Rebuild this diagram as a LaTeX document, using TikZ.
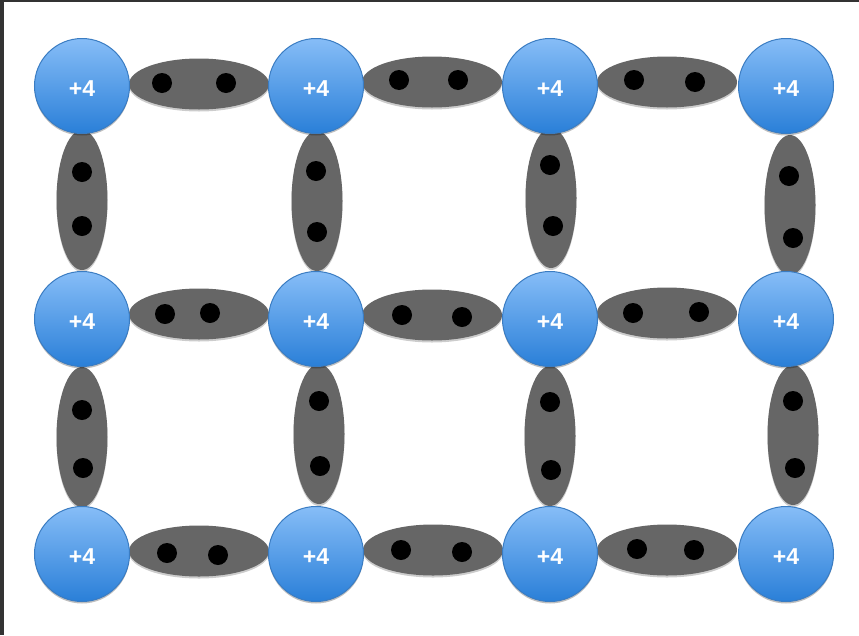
\documentclass[tikz,border=0pt]{standalone}
\usepackage{fontspec}
\setmainfont{Liberation Sans}
\usetikzlibrary{shapes.geometric,shadows}
\definecolor{atomtop}{HTML}{86BDF7}
\definecolor{atombot}{HTML}{2A7FD8}
\definecolor{atomedge}{HTML}{3A7CC2}
\definecolor{bondgray}{HTML}{666666}
\definecolor{frame}{HTML}{333333}
\tikzset{
  atom/.style={circle, minimum size=95pt, inner sep=0pt, draw=atomedge, line width=1pt,
    top color=atomtop, bottom color=atombot,
    drop shadow={shadow xshift=0pt, shadow yshift=-2pt, opacity=0.25, fill=black}},
  charge/.style={inner sep=0pt, text=white, font=\fontsize{23}{23}\selectfont\bfseries},
  hbond/.style={ellipse, minimum width=140pt, minimum height=51pt, inner sep=0pt, fill=bondgray,
    drop shadow={shadow xshift=0pt, shadow yshift=-2pt, opacity=0.2, fill=black}},
  vbond/.style={ellipse, minimum width=51pt, minimum height=140pt, inner sep=0pt, fill=bondgray,
    drop shadow={shadow xshift=0pt, shadow yshift=-2pt, opacity=0.2, fill=black}},
  electron/.style={circle, minimum size=20pt, inner sep=0pt, fill=black}
}
\begin{document}
\begin{tikzpicture}[x=1pt, y=-1pt]
\useasboundingbox (0,0) rectangle (859,635);
\fill[white] (0,0) rectangle (859,635);
\fill[frame] (0,0) rectangle (4,635);
\fill[frame] (0,0) rectangle (859,2);
% horizontal bonds
\node[hbond] (h11) at (199,84) {};
\node[hbond] (h12) at (432,82) {};
\node[hbond] (h13) at (667,82) {};
\node[hbond] (h21) at (199,314) {};
\node[hbond] (h22) at (432,315) {};
\node[hbond] (h23) at (667,313) {};
\node[hbond] (h31) at (199,551) {};
\node[hbond] (h32) at (433,550) {};
\node[hbond] (h33) at (667,550) {};
% vertical bonds
\node[vbond] (v11) at (82,200) {};
\node[vbond] (v12) at (317,201) {};
\node[vbond] (v13) at (551,198) {};
\node[vbond] (v14) at (790,205) {};
\node[vbond] (v21) at (82,437) {};
\node[vbond] (v22) at (319,434) {};
\node[vbond] (v23) at (550,436) {};
\node[vbond] (v24) at (793,435) {};
% electrons
\foreach \n/\x/\y in {
  a1/162/83, a2/226/83, a3/399/80, a4/458/80, a5/634/80, a6/695/82,
  b1/165/314, b2/210/313, b3/402/315, b4/462/317, b5/633/313, b6/699/312,
  c1/167/553, c2/218/555, c3/401/550, c4/462/552, c5/637/549, c6/694/550,
  d1/82/172, d2/82/226, d3/316/171, d4/317/232, d5/550/165, d6/553/226, d7/789/176, d8/793/238,
  e1/82/410, e2/83/468, e3/319/401, e4/320/466, e5/550/402, e6/551/470, e7/793/401, e8/795/468}
  \node[electron] (e\n) at (\x,\y) {};
% atoms
\foreach \r/\y in {1/86, 2/319, 3/554}
  \foreach \c/\x in {1/82, 2/316, 3/550, 4/786} {
    \node[atom] (a\r\c) at (\x,\y) {};
    \node[charge] (q\r\c) at (\x,\y+3) {+4};
  }
\end{tikzpicture}
\end{document}
